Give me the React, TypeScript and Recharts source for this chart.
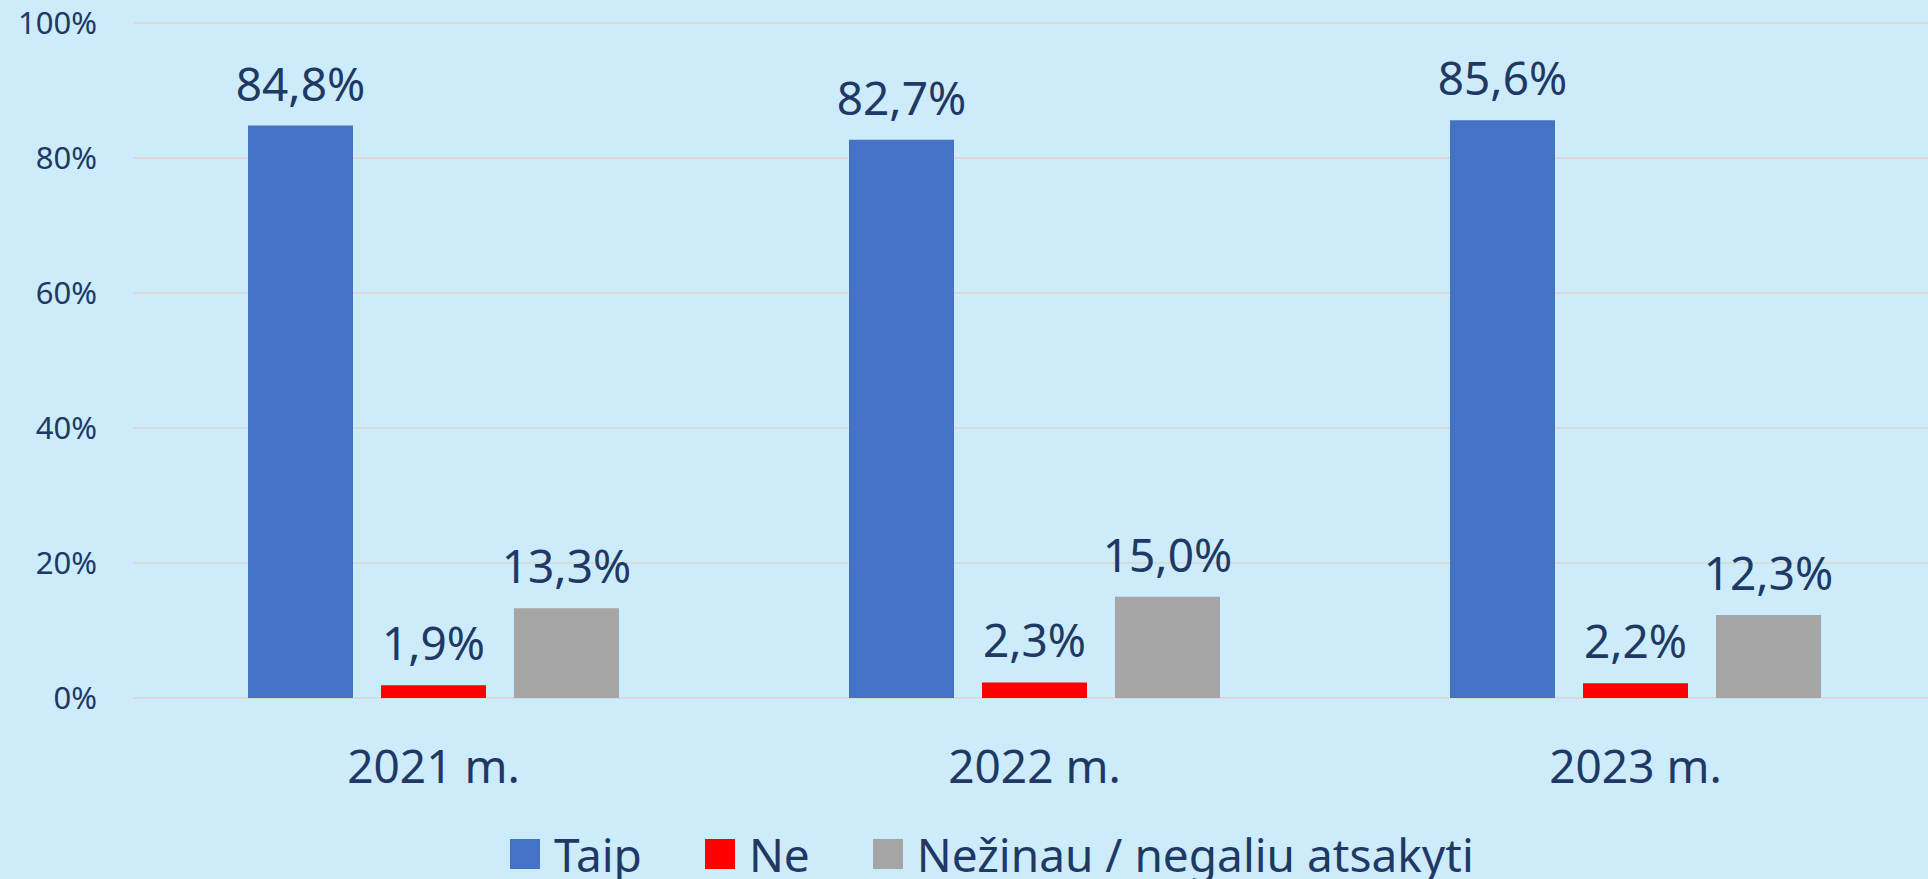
import React from 'react';
import { BarChart, Bar, XAxis, YAxis, CartesianGrid, LabelList, Legend } from 'recharts';

const categories = ['2021 m.', '2022 m.', '2023 m.'];
const taip = [84.8, 82.7, 85.6];
const ne = [1.9, 2.3, 2.2];
const nezinau = [13.3, 15.0, 12.3];
const yTicks = [0, 20, 40, 60, 80, 100];

const seriesNames = ['Taip', 'Ne', 'Nežinau / negaliu atsakyti'];
const seriesColors = ['#4472C4', '#FF0000', '#A5A5A5'];

const data = categories.map((c, i) => ({ name: c, taip: taip[i], ne: ne[i], nezinau: nezinau[i] }));

const TEXT = '#1F3864';
const fmt = (v: any) => Number(v).toFixed(1).replace('.', ',') + '%';

const LegendContent = () => (
  <div style={{ display: 'flex', alignItems: 'center', height: 50, fontSize: 46, color: TEXT, whiteSpace: 'nowrap', lineHeight: '50px' }}>
    {seriesNames.map((n, i) => (
      <div key={n} style={{ display: 'flex', alignItems: 'center', marginRight: i < seriesNames.length - 1 ? 63 : 0 }}>
        <span style={{ display: 'inline-block', width: 30, height: 30, background: seriesColors[i], marginRight: 14 }} />
        <span>{n}</span>
      </div>
    ))}
  </div>
);

export default function App() {
  return (
    <div style={{ position: 'fixed', left: 0, top: 0, width: 1928, height: 879, background: '#CCECFC', overflow: 'hidden', fontFamily: '"Noto Sans", sans-serif' }}>
      <BarChart width={1940} height={879} data={data} margin={{ top: 23, right: 4, left: 0, bottom: 0 }} barSize={105} barGap={28}>
        <CartesianGrid vertical={false} stroke="#D9D9D9" strokeWidth={2} />
        <XAxis dataKey="name" axisLine={false} tickLine={false} tickSize={0} tickMargin={52} height={131} tick={{ fill: TEXT, fontSize: 46 }} />
        <YAxis domain={[0, 100]} ticks={yTicks} axisLine={false} tickLine={false} tickSize={0} tickMargin={36} width={133} tickFormatter={(v: any) => `${v}%`} tick={{ fill: TEXT, fontSize: 31 }} />
        <Legend verticalAlign="bottom" align="left" content={<LegendContent />} wrapperStyle={{ left: 510, bottom: 0, width: 'auto' }} />
        <Bar dataKey="taip" name={seriesNames[0]} fill={seriesColors[0]} isAnimationActive={false}>
          <LabelList dataKey="taip" position="top" offset={25} formatter={fmt} fill={TEXT} fontSize={46} />
        </Bar>
        <Bar dataKey="ne" name={seriesNames[1]} fill={seriesColors[1]} isAnimationActive={false}>
          <LabelList dataKey="ne" position="top" offset={25} formatter={fmt} fill={TEXT} fontSize={46} />
        </Bar>
        <Bar dataKey="nezinau" name={seriesNames[2]} fill={seriesColors[2]} isAnimationActive={false}>
          <LabelList dataKey="nezinau" position="top" offset={25} formatter={fmt} fill={TEXT} fontSize={46} />
        </Bar>
      </BarChart>
    </div>
  );
}
